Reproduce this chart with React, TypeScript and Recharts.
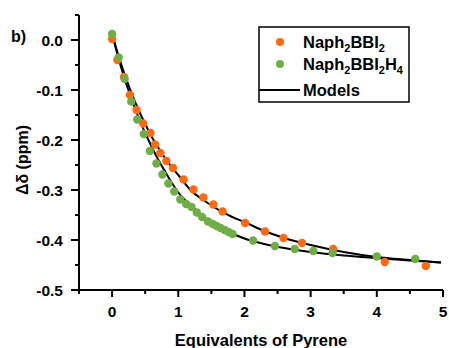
import React from 'react';
import { ComposedChart, XAxis, YAxis, Scatter, Line } from 'recharts';

// Naph2BBI2 (orange) titration data
const orangeX = [0, 0.08, 0.18, 0.27, 0.37, 0.47, 0.58, 0.65, 0.73, 0.82, 0.92, 1.08, 1.23, 1.38, 1.53, 1.67, 2.01, 2.31, 2.59, 2.87, 3.34, 4.12, 4.74];
const orangeY = [0.002, -0.04, -0.074, -0.11, -0.14, -0.167, -0.186, -0.209, -0.226, -0.242, -0.256, -0.279, -0.299, -0.315, -0.329, -0.343, -0.366, -0.383, -0.396, -0.406, -0.418, -0.444, -0.452];

// Naph2BBI2H4 (green) titration data
const greenX = [0, 0.1, 0.19, 0.29, 0.38, 0.48, 0.57, 0.67, 0.76, 0.85, 0.94, 1.03, 1.12, 1.2, 1.28, 1.36, 1.45, 1.52, 1.58, 1.64, 1.7, 1.76, 1.82, 2.13, 2.46, 2.76, 3.04, 3.33, 4.0, 4.58];
const greenY = [0.012, -0.035, -0.078, -0.123, -0.159, -0.188, -0.222, -0.247, -0.269, -0.287, -0.303, -0.319, -0.328, -0.334, -0.345, -0.354, -0.363, -0.368, -0.372, -0.376, -0.38, -0.384, -0.388, -0.401, -0.412, -0.418, -0.422, -0.426, -0.433, -0.438];

// Model curves
const modelX = [0, 0.1, 0.2, 0.3, 0.4, 0.5, 0.6, 0.7, 0.8, 0.9, 1.0, 1.2, 1.4, 1.6, 1.8, 2.0, 2.3, 2.6, 3.0, 3.5, 4.0, 4.5, 4.97];
const modelOrangeY = [0.012, -0.033, -0.073, -0.108, -0.14, -0.168, -0.194, -0.216, -0.236, -0.254, -0.27, -0.302, -0.322, -0.339, -0.353, -0.364, -0.382, -0.396, -0.41, -0.424, -0.434, -0.44, -0.445];
const modelGreenY = [0.012, -0.038, -0.082, -0.12, -0.155, -0.186, -0.214, -0.24, -0.263, -0.285, -0.305, -0.332, -0.355, -0.372, -0.386, -0.397, -0.408, -0.416, -0.424, -0.431, -0.436, -0.441, -0.445];

const xTicks = [-0.5, 0, 0.5, 1, 1.5, 2, 2.5, 3, 3.5, 4, 4.5, 5];
const yTicks = [-0.5, -0.45, -0.4, -0.35, -0.3, -0.25, -0.2, -0.15, -0.1, -0.05, 0, 0.05];

const ORANGE = '#FF6A10';
const GREEN = '#70AD47';
const FONT = '"Liberation Sans", Arial, sans-serif';

const zip = (xs: number[], ys: number[]) => xs.map((x, i) => ({ x, y: ys[i] }));
const orangeData = zip(orangeX, orangeY);
const greenData = zip(greenX, greenY);
const orangeModel = zip(modelX, modelOrangeY);
const greenModel = zip(modelX, modelGreenY);

const XTick = (props: any) => {
  const { x, y, payload } = props;
  const v = payload.value as number;
  const major = Math.abs(v - Math.round(v)) < 1e-6;
  return (
    <g>
      <line x1={x} x2={x} y1={y} y2={y + (major ? 7 : 4)} stroke="#000" strokeWidth={2} />
      {major && (
        <text x={x} y={y + 27} textAnchor="middle" fontFamily={FONT} fontWeight="bold" fontSize={15.5} fill="#000">
          {Math.round(v)}
        </text>
      )}
    </g>
  );
};

const YTick = (props: any) => {
  const { x, y, payload } = props;
  const v = payload.value as number;
  const major = Math.abs(v * 10 - Math.round(v * 10)) < 1e-6;
  return (
    <g>
      <line x1={x} x2={x - (major ? 8 : 4)} y1={y} y2={y} stroke="#000" strokeWidth={2} />
      {major && (
        <text x={x - 16} y={y + 5.5} textAnchor="end" fontFamily={FONT} fontWeight="bold" fontSize={15.5} fill="#000">
          {(Math.round(v * 10) / 10).toFixed(1).replace('-0.0', '0.0')}
        </text>
      )}
    </g>
  );
};

const dot = (color: string) => (p: any) => <circle cx={p.cx} cy={p.cy} r={4.2} fill={color} />;

export default function App() {
  return (
    <div style={{ position: 'absolute', left: 0, top: 0, width: 449, height: 348, background: '#fff' }}>
      <ComposedChart width={449} height={348} margin={{ top: 15, right: 6, bottom: 0, left: 0 }}>
        <XAxis
          type="number"
          dataKey="x"
          domain={[-0.5, 5]}
          ticks={xTicks}
          interval={0}
          allowDataOverflow
          height={58}
          tickSize={0}
          tickMargin={0}
          tickLine={false}
          axisLine={{ stroke: '#000', strokeWidth: 2 }}
          tick={<XTick />}
        />
        <YAxis
          type="number"
          dataKey="y"
          domain={[-0.5, 0.05]}
          ticks={yTicks}
          interval={0}
          allowDataOverflow
          width={79}
          tickSize={0}
          tickMargin={0}
          tickLine={false}
          axisLine={{ stroke: '#000', strokeWidth: 2 }}
          tick={<YTick />}
        />
        <Scatter data={orangeData} fill={ORANGE} shape={dot(ORANGE)} isAnimationActive={false} />
        <Scatter data={greenData} fill={GREEN} shape={dot(GREEN)} isAnimationActive={false} />
        <Line data={orangeModel} dataKey="y" type="monotone" stroke="#000" strokeWidth={2} dot={false} activeDot={false} isAnimationActive={false} />
        <Line data={greenModel} dataKey="y" type="monotone" stroke="#000" strokeWidth={2} dot={false} activeDot={false} isAnimationActive={false} />
      </ComposedChart>
      <svg width={449} height={348} style={{ position: 'absolute', left: 0, top: 0, pointerEvents: 'none' }}>
        <text x={11} y={42} fontFamily={FONT} fontWeight="bold" fontSize={16} fill="#000">b)</text>
        <text
          x={0}
          y={0}
          transform="translate(28,160) rotate(-90)"
          textAnchor="middle"
          fontFamily={FONT}
          fontWeight="bold"
          fontSize={16}
          fill="#000"
        >
          Δδ (ppm)
        </text>
        <text x={261} y={346} textAnchor="middle" fontFamily={FONT} fontWeight="bold" fontSize={16.5} fill="#000">
          Equivalents of Pyrene
        </text>
        <rect x={259} y={27} width={150} height={75} fill="#fff" stroke="#000" strokeWidth={1.5} />
        <circle cx={280} cy={42} r={4} fill={ORANGE} />
        <text x={303} y={48} fontFamily={FONT} fontWeight="bold" fontSize={16.5} fill="#000">
          Naph<tspan fontSize={11} dy={4}>2</tspan>
          <tspan dy={-4}>BBI</tspan>
          <tspan fontSize={11} dy={4}>2</tspan>
        </text>
        <circle cx={280} cy={64} r={4} fill={GREEN} />
        <text x={303} y={70} fontFamily={FONT} fontWeight="bold" fontSize={16.5} fill="#000">
          Naph<tspan fontSize={11} dy={4}>2</tspan>
          <tspan dy={-4}>BBI</tspan>
          <tspan fontSize={11} dy={4}>2</tspan>
          <tspan dy={-4}>H</tspan>
          <tspan fontSize={11} dy={4}>4</tspan>
        </text>
        <line x1={259} x2={300} y1={90} y2={90} stroke="#000" strokeWidth={2} />
        <text x={303} y={96} fontFamily={FONT} fontWeight="bold" fontSize={16.5} fill="#000">Models</text>
      </svg>
    </div>
  );
}
